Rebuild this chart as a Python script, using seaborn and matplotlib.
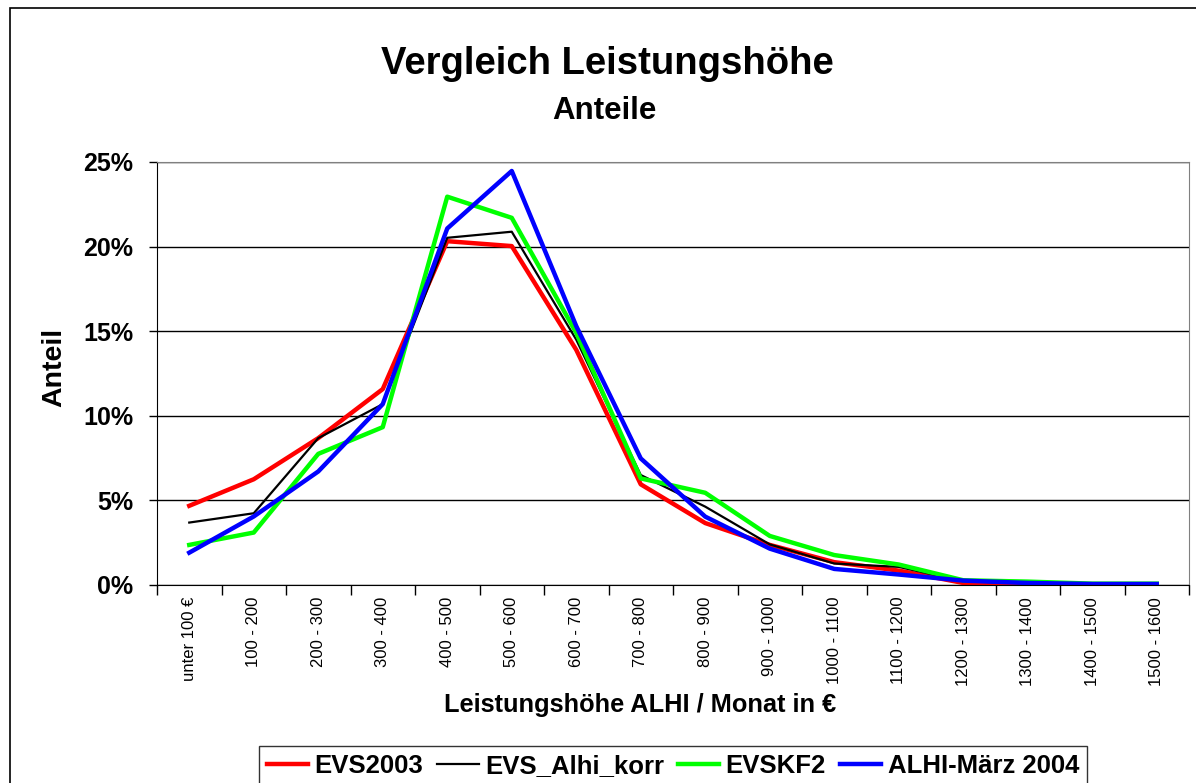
import numpy as np
import pandas as pd
import seaborn as sns
import matplotlib.pyplot as plt
from matplotlib.patches import Rectangle
from matplotlib.ticker import FixedLocator, PercentFormatter

categories = ["unter 100 €", "100 - 200", "200 - 300", "300 - 400", "400 - 500",
              "500 - 600", "600 - 700", "700 - 800", "800 - 900", "900 - 1000",
              "1000 - 1100", "1100 - 1200", "1200 - 1300", "1300 - 1400",
              "1400 - 1500", "1500 - 1600"]

evs2003 = [4.68, 6.25, 8.68, 11.58, 20.32, 20.03, 13.9, 5.95, 3.66, 2.37,
           1.35, 0.85, 0.12, 0.04, 0.03, 0.03]
evs_alhi_korr = [3.69, 4.24, 8.68, 10.69, 20.52, 20.88, 14.5, 6.5, 4.63, 2.4,
                 1.27, 1.07, 0.22, 0.1, 0.08, 0.08]
evskf2 = [2.37, 3.1, 7.75, 9.33, 22.95, 21.7, 14.9, 6.3, 5.45, 2.9,
          1.77, 1.21, 0.28, 0.2, 0.08, 0.08]
alhi_maerz = [1.91, 4.05, 6.71, 10.69, 21.07, 24.47, 15.3, 7.48, 4.04, 2.15,
              0.95, 0.62, 0.26, 0.12, 0.06, 0.06]

series_names = ["EVS2003", "EVS_Alhi_korr", "EVSKF2", "ALHI-März 2004"]
series_values = [evs2003, evs_alhi_korr, evskf2, alhi_maerz]
colors = ["#ff0000", "#000000", "#00ff00", "#0000ff"]
widths = [3.2, 1.6, 3.2, 3.2]

df = pd.concat([pd.DataFrame({"pos": np.arange(len(categories)), "Anteil": vals, "Reihe": name})
                for name, vals in zip(series_names, series_values)])

plt.rcParams["font.family"] = ["Liberation Sans", "DejaVu Sans"]
fig = plt.figure(figsize=(11.96, 7.83), dpi=100)
ax = fig.add_axes([157 / 1196, 1 - 585 / 783, 1032 / 1196, 423 / 783])

for name, c, lw in zip(series_names, colors, widths):
    sns.lineplot(data=df[df["Reihe"] == name], x="pos", y="Anteil", color=c,
                 linewidth=lw, label=name, ax=ax, legend=False)

ax.set_xlim(-0.5, len(categories) - 0.5)
ax.set_ylim(0, 25)
ax.set_yticks([0, 5, 10, 15, 20, 25])
ax.yaxis.set_major_formatter(PercentFormatter(decimals=0))
for t in ax.get_yticklabels():
    t.set_fontsize(18)
    t.set_fontweight("bold")
ax.tick_params(axis="y", length=6, width=1, pad=11)
ax.grid(axis="y", color="black", linewidth=1)
ax.set_axisbelow(True)

ax.xaxis.set_major_locator(FixedLocator(np.arange(-0.5, len(categories), 1)))
ax.xaxis.set_minor_locator(FixedLocator(np.arange(len(categories))))
ax.set_xticklabels([], minor=False)
ax.set_xticklabels(categories, minor=True, rotation=90, fontsize=12, va="top", ha="center")
ax.tick_params(axis="x", which="major", length=7, width=1)
ax.tick_params(axis="x", which="minor", length=0, pad=8.5)

for side in ["top", "right"]:
    ax.spines[side].set_color("#808080")
for side in ["left", "bottom"]:
    ax.spines[side].set_color("black")
ax.set_xlabel("")
ax.set_ylabel("")

fig.text(607 / 1196, 1 - 74 / 783, "Vergleich Leistungshöhe", ha="center", va="baseline",
         fontsize=27.5, fontweight="bold")
fig.text(604 / 1196, 1 - 119 / 783, "Anteile", ha="center", va="baseline",
         fontsize=22.5, fontweight="bold")
fig.text(54 / 1196, 1 - 367 / 783, "Anteil", rotation=90, ha="center", va="center",
         fontsize=20.5, fontweight="bold")
fig.text(640 / 1196, 1 - 712 / 783, "Leistungshöhe ALHI / Monat in €", ha="center",
         va="baseline", fontsize=18.3, fontweight="bold")

handles, labels = ax.get_legend_handles_labels()
leg = fig.legend(handles, labels, loc="upper center", bbox_to_anchor=(673 / 1196, 1 - 746 / 783),
                 ncol=4, frameon=True, fancybox=False, edgecolor="black",
                 prop={"weight": "bold", "size": 18.5}, handlelength=1.6,
                 handletextpad=0.25, columnspacing=0.55, borderpad=0.3, borderaxespad=0)
leg.get_frame().set_linewidth(1)

fig.patches.append(Rectangle((10 / 1196, -0.05), 1.2, 1 - 8 / 783 + 0.05,
                             transform=fig.transFigure, fill=False, edgecolor="black",
                             linewidth=1.2, clip_on=False))

fig.savefig("out.png", dpi=100)
